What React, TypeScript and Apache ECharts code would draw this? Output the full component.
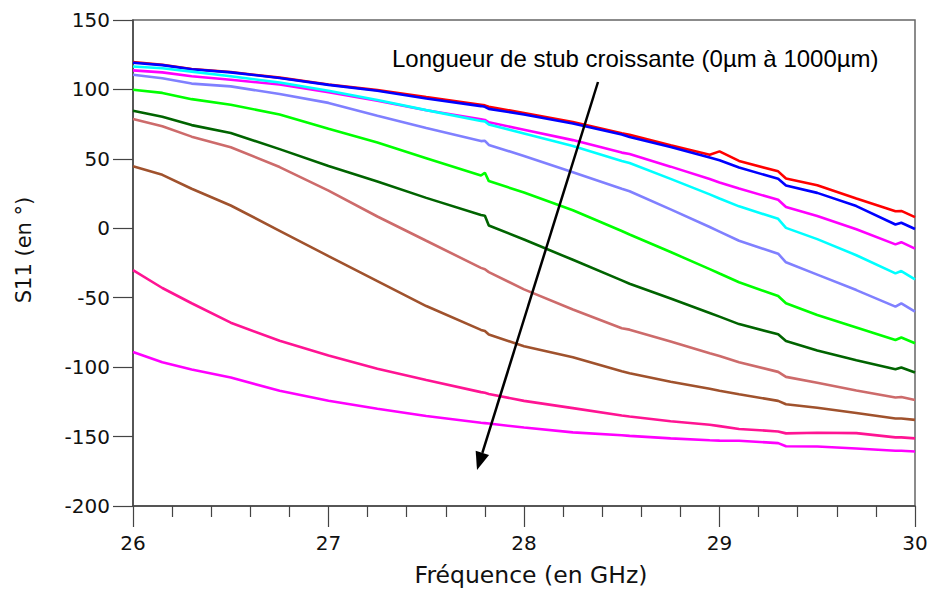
import React, { useEffect, useRef } from "react";
import * as echarts from "echarts";

const freq = [26.0, 26.15, 26.3, 26.5, 26.75, 27.0, 27.25, 27.5, 27.78, 27.8, 27.82, 28.0, 28.25, 28.5, 28.54, 28.75, 28.95, 29.0, 29.1, 29.3, 29.34, 29.5, 29.7, 29.9, 29.93, 30.0];

const sRed = [119.7, 117.8, 114.7, 112.5, 108.5, 103.5, 99.5, 94.5, 89, 88.5, 87.5, 83, 76.5, 68.5, 67.4, 59.8, 53, 55.4, 48.5, 41, 35.8, 31, 21.5, 12.3, 12.5, 8];
const sBlue = [119.2, 117.5, 114.5, 112.3, 108.2, 103.3, 99, 93.5, 88, 87.5, 86, 82, 75.5, 67.5, 65.8, 58.5, 51, 49, 43.8, 35.6, 30.8, 25.5, 16, 2.7, 4, -0.5];
const sMagenta = [113.7, 112.3, 109.5, 107, 103.5, 98, 91.8, 85, 78.5, 78, 76.3, 71, 63.5, 54.5, 53.5, 44.4, 35.5, 33, 28.6, 20.5, 15.3, 8.8, -0.7, -11.6, -10, -14.7];
const sCyan = [116.5, 115.3, 112.8, 109.5, 105, 99, 92.4, 85.1, 77.3, 77, 74.8, 68.3, 59.2, 48.5, 47, 35.6, 24.4, 21.5, 15.8, 6.8, 0.3, -7.8, -19.4, -32.5, -30.8, -36.8];
const sPurple = [110.6, 108.1, 104.2, 102.2, 96.7, 90.3, 81.1, 72.3, 62.8, 63, 60, 52.1, 40.4, 28.5, 26.7, 13.6, 0.9, -2.4, -9, -18.3, -24.5, -33.4, -44.5, -56.4, -54, -60];
const sGreen = [99.8, 97.5, 93, 89, 82, 71.6, 61.7, 50.5, 38, 40, 34, 25.8, 13, -2, -4.5, -17.1, -29.4, -32.6, -38.9, -48.8, -54, -62.4, -71.4, -80.4, -78.7, -82.8];
const sDarkGreen = [84.7, 80.3, 74.3, 68.6, 57, 44.8, 33.7, 21.9, 9.5, 9, 2, -8.1, -22.7, -37.5, -39.9, -50.6, -61, -63.6, -69, -76.3, -81.2, -88, -95, -101.5, -100.3, -103.9];
const sSalmon = [78.7, 73.5, 66, 58.4, 44.1, 27.1, 8.5, -9, -28.5, -29.5, -31.6, -44, -58.5, -72, -73, -81.5, -90, -92, -96.5, -103.4, -107, -111.2, -116.8, -121.9, -121.5, -123.6];
const sBrown = [44.6, 38.5, 28.5, 16.4, -1.8, -20, -38, -56, -73.2, -74, -76.5, -85, -92.9, -103, -104.4, -110.5, -115.5, -117, -119.5, -124.3, -126.7, -129.3, -133, -137, -137, -138];
const sDeepPink = [-30.1, -43, -54, -68, -81, -91.6, -101.2, -109.3, -118, -118.5, -119.3, -124.3, -129.5, -134.8, -135.5, -139, -141.5, -142.5, -144.5, -146.3, -147.7, -147.2, -147.5, -150.6, -150.6, -151.3];
const sMagenta2 = [-89.1, -96.5, -101.7, -107.5, -117, -124.2, -130, -135.2, -140, -140.3, -140.6, -143.5, -147, -149, -149.5, -151.3, -152.6, -152.9, -153, -154.7, -157, -157.2, -158.6, -160.2, -160.2, -160.7];

const seriesList = [
  { name: "L1", color: "#ff0000", values: sRed },
  { name: "L2", color: "#0000ff", values: sBlue },
  { name: "L3", color: "#ff00ff", values: sMagenta },
  { name: "L4", color: "#00ffff", values: sCyan },
  { name: "L5", color: "#8080ff", values: sPurple },
  { name: "L6", color: "#00ff00", values: sGreen },
  { name: "L7", color: "#006400", values: sDarkGreen },
  { name: "L8", color: "#cd6b6b", values: sSalmon },
  { name: "L9", color: "#a0522d", values: sBrown },
  { name: "L10", color: "#ff1493", values: sDeepPink },
  { name: "L11", color: "#ff00ff", values: sMagenta2 },
];

const xTicks = [26, 27, 28, 29, 30];
const yTicks = [-200, -150, -100, -50, 0, 50, 100, 150];

const annotation = "Longueur de stub croissante (0µm à 1000µm)";

export default function App() {
  const ref = useRef<HTMLDivElement>(null);
  useEffect(() => {
    if (!ref.current) return;
    const chart = echarts.init(ref.current, undefined, { renderer: "svg" });
    // arrow geometry (annotation, pixel space)
    const x1 = 598, y1 = 82, tx = 477, ty = 470;
    const dx = tx - x1, dy = ty - y1;
    const len = Math.sqrt(dx * dx + dy * dy);
    const ux = dx / len, uy = dy / len;
    const hl = 18, hw = 7;
    const bx = tx - hl * ux, by = ty - hl * uy;
    const px = -uy, py = ux;
    chart.setOption({
      animation: false,
      backgroundColor: "#ffffff",
      grid: {
        left: 133,
        right: 16,
        top: 20,
        bottom: 85,
        show: true,
        borderColor: "#666666",
        borderWidth: 1.5,
        backgroundColor: "transparent",
      },
      xAxis: {
        type: "value",
        min: xTicks[0],
        max: xTicks[xTicks.length - 1],
        interval: 1,
        name: "Fréquence (en GHz)",
        nameLocation: "middle",
        nameGap: 57,
        nameTextStyle: { fontFamily: "DejaVu Sans", fontSize: 23.5, color: "#111", padding: [0, 0, 0, 14] },
        axisLine: { show: true, onZero: false, lineStyle: { color: "#444", width: 1.5 } },
        axisTick: { show: true, inside: false, length: 21, lineStyle: { color: "#444", width: 1.2 } },
        minorTick: { show: true, splitNumber: 5, length: 11, lineStyle: { color: "#444", width: 1.2 } },
        splitLine: { show: false },
        axisLabel: { fontFamily: "DejaVu Sans", fontSize: 20, color: "#111", margin: 27 },
      },
      yAxis: {
        type: "value",
        min: yTicks[0],
        max: yTicks[yTicks.length - 1],
        interval: 50,
        name: "S11 (en °)",
        nameLocation: "middle",
        nameGap: 99,
        nameTextStyle: { fontFamily: "DejaVu Sans", fontSize: 21, color: "#111", padding: [0, 0, 0, 26] },
        axisLine: { show: true, onZero: false, lineStyle: { color: "#444", width: 1.5 } },
        axisTick: { show: true, inside: false, length: 20, lineStyle: { color: "#444", width: 1.2 } },
        splitLine: { show: false },
        axisLabel: { fontFamily: "DejaVu Sans", fontSize: 20, color: "#111", margin: 23 },
      },
      series: seriesList.map((s) => ({
        name: s.name,
        type: "line",
        data: freq.map((f, i) => [f, s.values[i]]),
        showSymbol: false,
        symbol: "none",
        lineStyle: { color: s.color, width: 2.6 },
        itemStyle: { color: s.color },
        clip: true,
      })),
      graphic: [
        {
          type: "text",
          left: 392,
          top: 46,
          z: 100,
          style: {
            text: annotation,
            fontFamily: "Liberation Sans, Arial, sans-serif",
            fontSize: 24,
            fill: "#000",
          },
        },
        {
          type: "line",
          z: 100,
          shape: { x1, y1, x2: bx, y2: by },
          style: { stroke: "#000", lineWidth: 2.5 },
        },
        {
          type: "polygon",
          z: 100,
          shape: {
            points: [
              [tx, ty],
              [bx + hw * px, by + hw * py],
              [bx - hw * px, by - hw * py],
            ],
          },
          style: { fill: "#000" },
        },
      ],
    });
    return () => chart.dispose();
  }, []);
  return (
    <div
      ref={ref}
      style={{ position: "fixed", left: 0, top: 0, width: 931, height: 592, background: "#fff" }}
    />
  );
}
